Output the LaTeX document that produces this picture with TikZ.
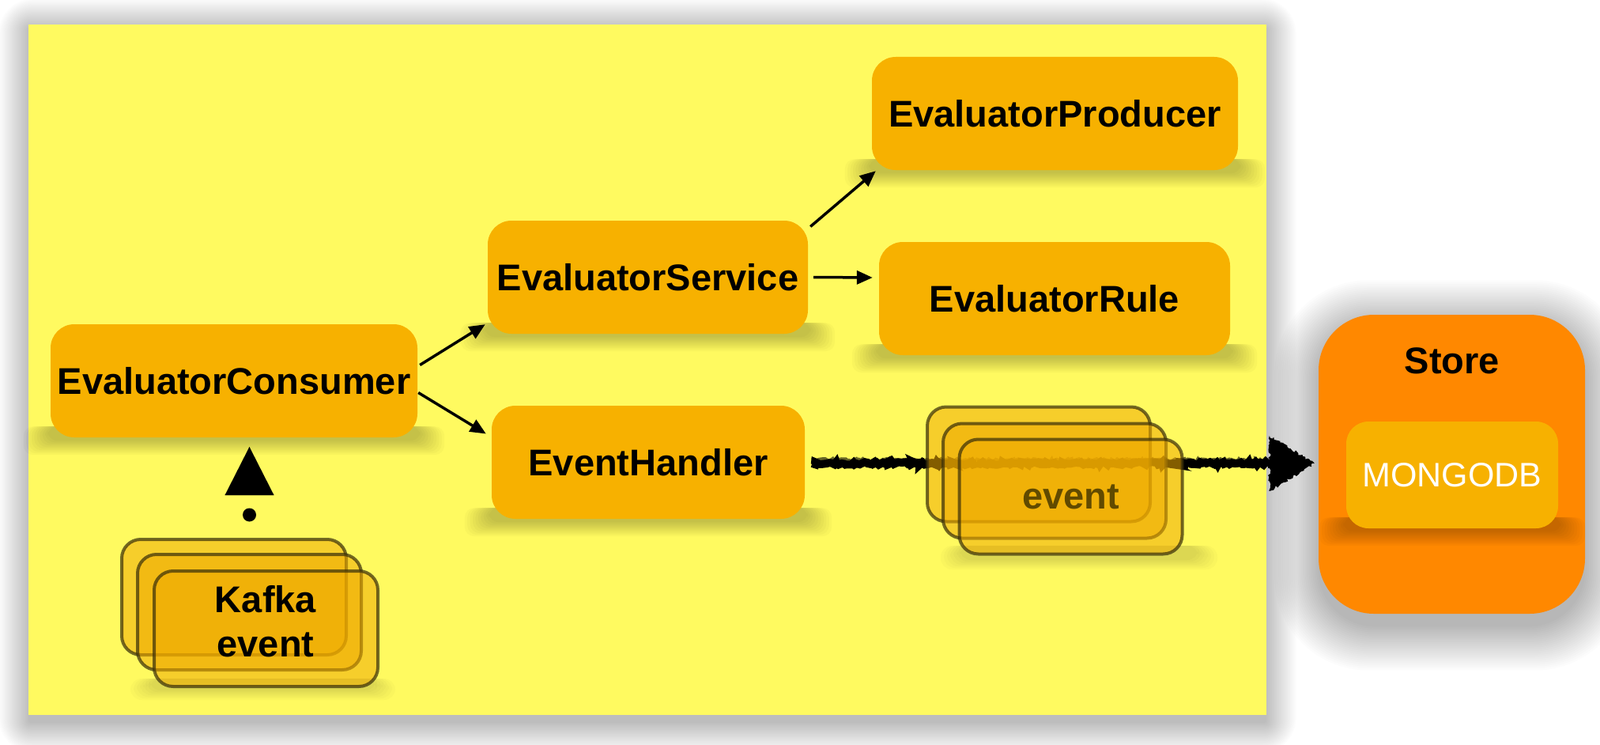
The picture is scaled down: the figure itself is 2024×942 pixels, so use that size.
\documentclass[tikz,border=0pt]{standalone}
\usepackage{fontspec}
\setmainfont{Liberation Sans}
\usetikzlibrary{arrows.meta,calc,decorations.pathmorphing}
\definecolor{panelY}{RGB}{255,250,96}
\definecolor{boxO}{RGB}{247,177,0}
\definecolor{cardF}{RGB}{240,170,0}
\definecolor{storeO}{RGB}{255,136,0}
\definecolor{cardE}{RGB}{55,45,10}
\definecolor{evtxt}{RGB}{97,74,0}
\pgfdeclarelayer{panel}
\pgfdeclarelayer{shade}
\pgfsetlayers{panel,shade,main}
\tikzset{
  comp/.style={rounded corners=30pt, fill=boxO, inner sep=0pt, minimum height=143pt,
    font=\fontsize{47}{56}\selectfont\bfseries, text=black},
  card/.style={rounded corners=24pt, fill=cardF, fill opacity=0.55, draw=cardE, draw opacity=0.7,
    line width=4pt, minimum width=282pt, minimum height=145pt, inner sep=0pt,
    text opacity=1, font=\fontsize{47}{56}\selectfont\bfseries},
  link/.style={line width=3.5pt, -{Triangle[length=20pt,width=17pt]}},
  rough/.style={decorate, decoration={random steps, segment length=2.5pt, amplitude=1.8pt}},
}
\begin{document}
\begin{tikzpicture}[x=1pt,y=-1pt]
\useasboundingbox (0,0) rectangle (2024,942);
% panel with soft halo
\begin{pgfonlayer}{panel}
\fill[white] (0,0) rectangle (2024,942);
\foreach \k in {1,...,22}{
  \fill[black, opacity=0.011, rounded corners=2*\k] (38-1.8*\k, 38-1.8*\k) rectangle (1600+1.8*\k, 912+1.8*\k);
}
\fill[panelY] (36,31) rectangle (1602,904);
\foreach \k in {1,...,24}{
  \fill[black, opacity=0.011, rounded corners=70+2*\k] (1670-2.4*\k, 412-2.4*\k) rectangle (2003+2.4*\k, 790+2.4*\k);
}
\node[rounded corners=70pt, fill=storeO, minimum width=337pt, minimum height=378pt] (store) at (1836.5,587) {};
\end{pgfonlayer}

% components
\node[comp, minimum width=464pt] (ec) at (296,481.5) {EvaluatorConsumer};
\node[comp, minimum width=405pt] (es) at (819.5,350.5) {EvaluatorService};
\node[comp, minimum width=396pt] (eh) at (820,584.5) {EventHandler};
\node[comp, minimum width=463pt] (ep) at (1334.5,143.5) {EvaluatorProducer};
\node[comp, minimum width=444pt] (er) at (1334,377.5) {EvaluatorRule};
\node[font=\fontsize{47}{56}\selectfont\bfseries, inner sep=0pt] (storelbl) at (1837,456) {Store};
\node[comp, rounded corners=28pt, minimum width=268pt, minimum height=135pt,
      font=\fontsize{43}{50}\selectfont, text=white] (mongo) at (1837,600.5) {MONGODB};

% soft shadows under components
\begin{pgfonlayer}{shade}
\foreach \n in {ec,es,eh,ep,er,mongo}{
  \foreach \k in {0,...,9}{
    \fill[black, opacity=0.022, rounded corners=12pt]
      ($(\n.south west)+(-34+3.4*\k,-14)$) rectangle ($(\n.south east)+(34-3.4*\k,22-2*\k)$);
  }
}
\foreach \k in {0,...,6}{
  \fill[black, opacity=0.02, rounded corners=14pt]
    (1190+4*\k,690) rectangle (1540-4*\k,720-2*\k);
  \fill[black, opacity=0.02, rounded corners=14pt]
    (165+4*\k,858) rectangle (500-4*\k,885-2*\k);
}
\end{pgfonlayer}

% connectors
\draw[link] ($(ec.east)+(3,-20)$) -- ($(es.south west)+(-3,-12)$);
\draw[link] ($(ec.east)+(1,15)$) -- ($(eh.west)+(-7,-36)$);
\draw[link] ($(es.east)+(3,-64)$) -- ($(ep.south west)+(5,1)$);
\draw[link] ($(es.east)+(7,0)$) -- ($(er.west)+(-8,-26.5)$);

% rough thick arrow to the store
\draw[line width=10pt, rough] ($(eh.east)+(9,1.5)$) -- ($(store.west)+(-58,-1)$);
\draw[line width=4pt, rough, opacity=0.6] ($(eh.east)+(9,-3)$) -- ($(store.west)+(-58,-5)$);
\fill[rough] ($(store.west)+(-5,-1)$) -- ($(store.west)+(-62,-36)$) -- ($(store.west)+(-62,34)$) -- cycle;

% event cards
\node[card] (v1) at (1314,587) {};
\node[card] (v2) at (1334,608) {};
\node[card, text=evtxt] (v3) at (1354.5,628) {event};

% kafka cards
\node[card, minimum width=284pt, minimum height=146pt] (k1) at (296,755) {};
\node[card, minimum width=283pt, minimum height=146pt] (k2) at (315.5,774) {};
\node[card, minimum width=283pt, minimum height=146pt] (k3) at (336.5,795) {};
\node[font=\fontsize{47}{56}\selectfont\bfseries, align=center, inner sep=0pt] (kt) at (336,786) {Kafka\\event};

% kafka -> consumer
\coordinate (kdot) at ($(k2.north)+(0,-48)$);
\coordinate (ktip) at ($(ec.south -| kdot)+(0,12)$);
\fill (kdot) circle (8.5pt);
\draw[line width=0.01pt, -{Triangle[length=61pt,width=62pt]}] ($(kdot)+(0,-27)$) -- (ktip);
\end{tikzpicture}
\end{document}
